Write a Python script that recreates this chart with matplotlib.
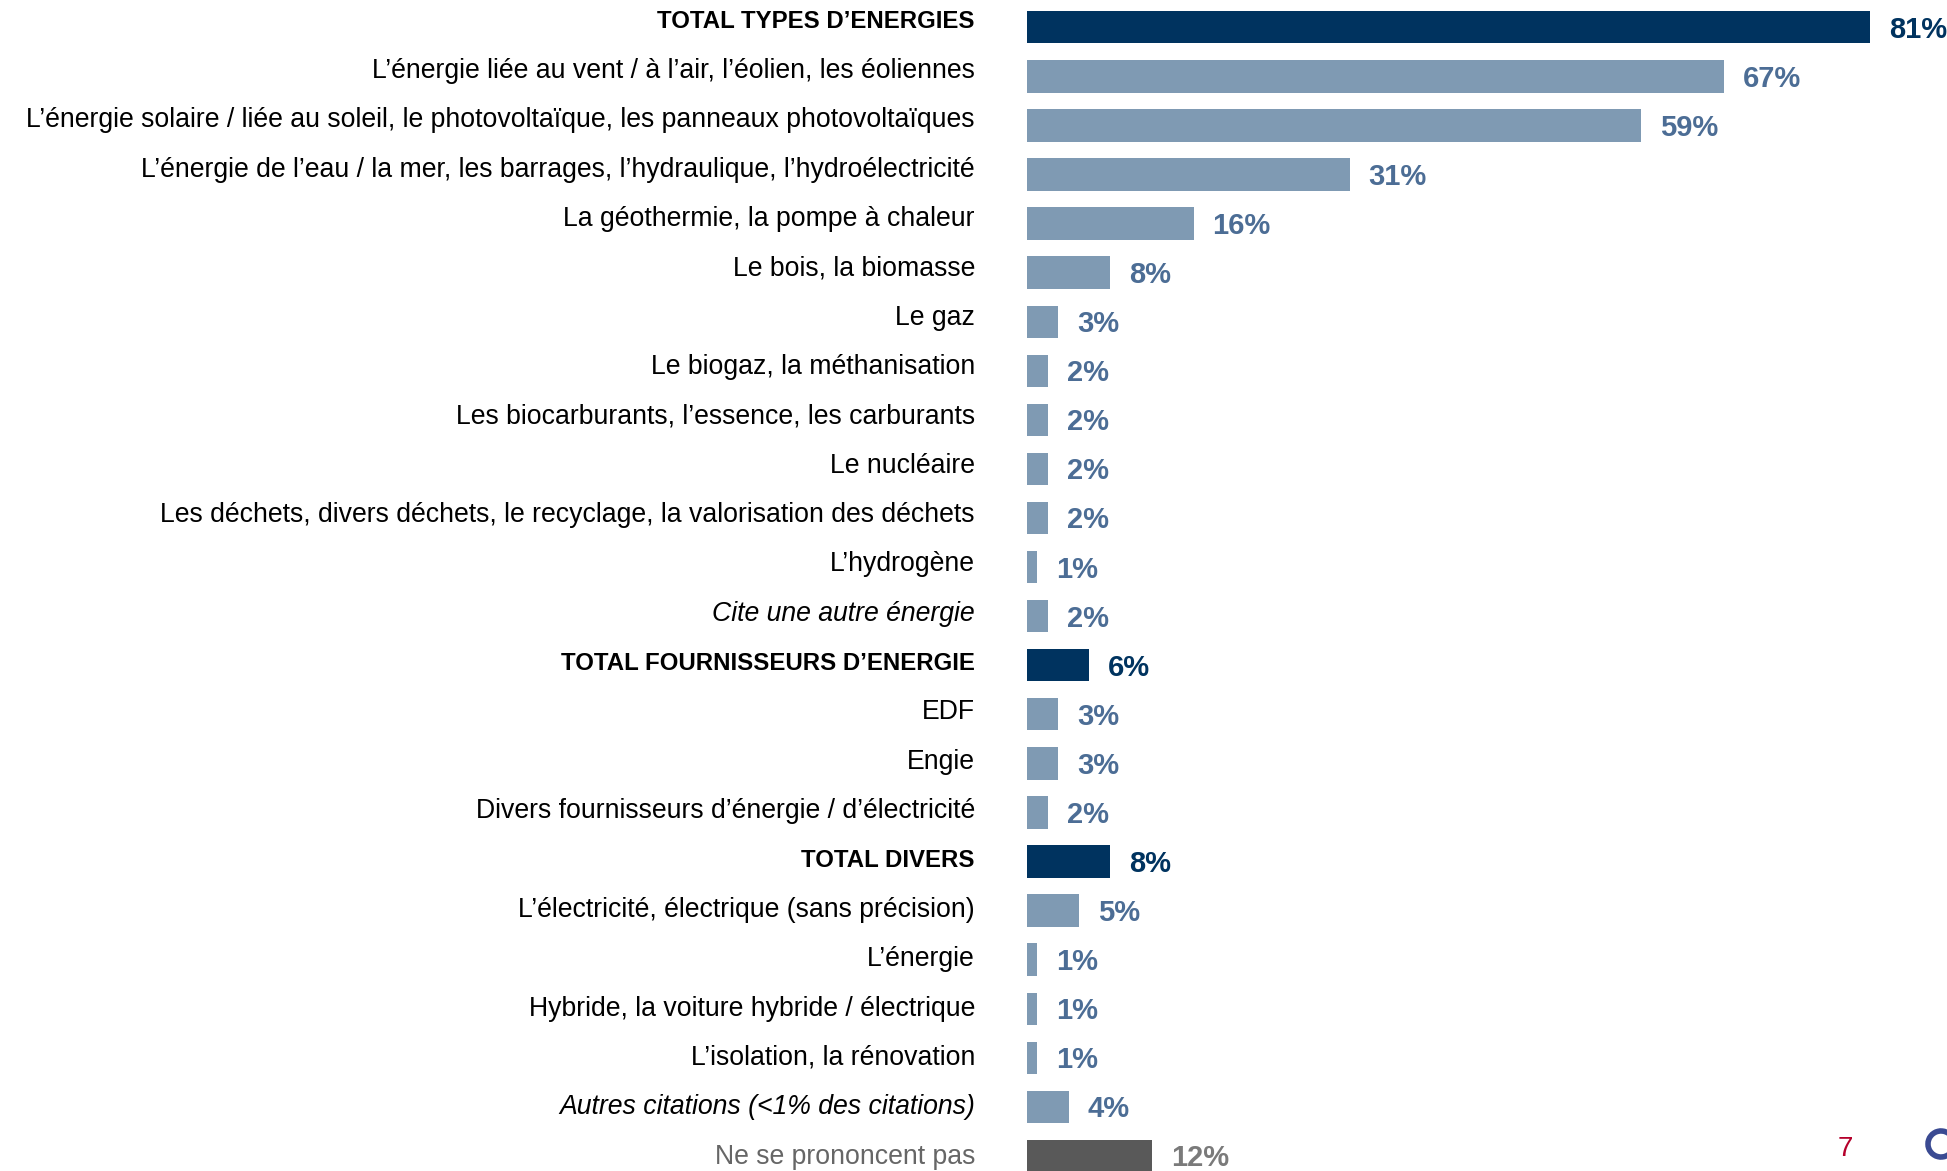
import matplotlib
matplotlib.use("Agg")
import matplotlib.pyplot as plt
from matplotlib.patches import Arc

labels = [
    "TOTAL TYPES D\u2019ENERGIES",
    "L\u2019énergie liée au vent / à l\u2019air, l\u2019éolien, les éoliennes",
    "L\u2019énergie solaire / liée au soleil, le photovoltaïque, les panneaux photovoltaïques",
    "L\u2019énergie de l\u2019eau / la mer, les barrages, l\u2019hydraulique, l\u2019hydroélectricité",
    "La géothermie, la pompe à chaleur",
    "Le bois, la biomasse",
    "Le gaz",
    "Le biogaz, la méthanisation",
    "Les biocarburants, l\u2019essence, les carburants",
    "Le nucléaire",
    "Les déchets, divers déchets, le recyclage, la valorisation des déchets",
    "L\u2019hydrogène",
    "Cite une autre énergie",
    "TOTAL FOURNISSEURS D\u2019ENERGIE",
    "EDF",
    "Engie",
    "Divers fournisseurs d\u2019énergie / d\u2019électricité",
    "TOTAL DIVERS",
    "L\u2019électricité, électrique (sans précision)",
    "L\u2019énergie",
    "Hybride, la voiture hybride / électrique",
    "L\u2019isolation, la rénovation",
    "Autres citations (<1% des citations)",
    "Ne se prononcent pas",
]
values = [81, 67, 59, 31, 16, 8, 3, 2, 2, 2, 2, 1, 2, 6, 3, 3, 2, 8, 5, 1, 1, 1, 4, 12]
# row kind: t = total, i = item, c = italic item, n = no answer
kinds = ["t", "i", "i", "i", "i", "i", "i", "i", "i", "i", "i", "i", "c",
         "t", "i", "i", "i", "t", "i", "i", "i", "i", "c", "n"]

DARK = "#00335F"
LIGHT = "#7F9AB3"
LIGHT_TXT = "#4C6D95"
GREY = "#595959"
GREY_TXT = "#7A7A7A"

FONT = ["Liberation Sans", "DejaVu Sans"]

W, H = 1947, 1171
fig = plt.figure(figsize=(W / 100, H / 100), dpi=100)

x0 = 1027          # bar start, px
px_per_pct = 10.41
row0, row_step = 27.3, 49.07     # bar centres, px
lab0, lab_step = 21.5, 49.35     # category text centres, px

ax = fig.add_axes([x0 / W, 0, 1 - x0 / W, 1])
ax.set_xlim(0, (W - x0) / px_per_pct)
ax.set_ylim((H - row0) / row_step, -row0 / row_step)
ax.axis("off")

bar_col = {"t": DARK, "i": LIGHT, "c": LIGHT, "n": GREY}
txt_col = {"t": DARK, "i": LIGHT_TXT, "c": LIGHT_TXT, "n": GREY_TXT}

ypos = list(range(len(labels)))
ax.barh(ypos, values, height=0.66, color=[bar_col[k] for k in kinds])

for y, v, k, lab in zip(ypos, values, kinds, labels):
    ax.text(v + 1.8, y + 0.05, f"{v}%", va="center", ha="left",
            fontsize=21, fontweight="bold", color=txt_col[k], family=FONT)
    ly = (lab0 + y * lab_step - row0) / row_step
    if k == "t":
        ax.text(-5.0, ly, lab, va="center", ha="right", fontsize=17.3,
                fontweight="bold", color="black", family=FONT)
    else:
        ax.text(-5.0, ly, lab, va="center", ha="right", fontsize=19.2,
                style="italic" if k == "c" else "normal",
                color="#666666" if k == "n" else "black", family=FONT)

# page number and logo fragment
fig.text(1845 / W, 1 - 1149 / H, "7", color="#B5002B", fontsize=20,
         ha="center", va="center", family=FONT)
fig.patches.append(Arc((1941 / W, 1 - 1144 / H), 26 / W, 26 / H,
                       theta1=40, theta2=320, lw=4, color="#3A4A92",
                       transform=fig.transFigure))

fig.savefig("out.png", dpi=100)
